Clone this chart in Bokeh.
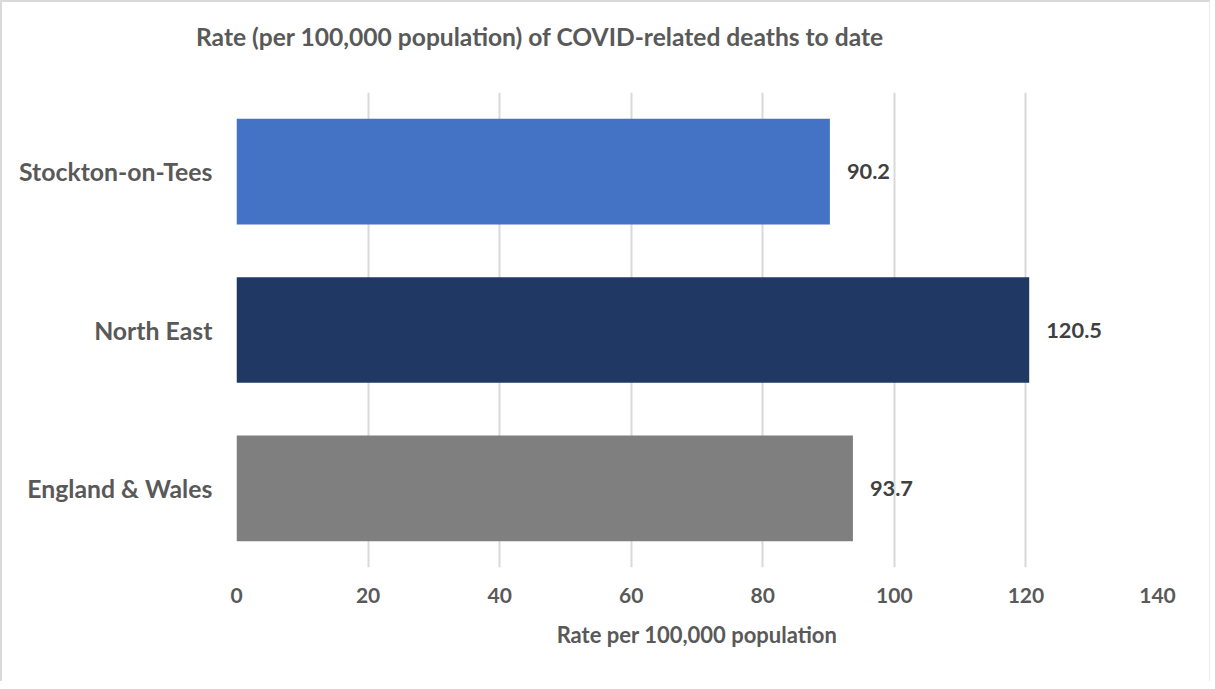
from bokeh.plotting import figure
from bokeh.models import ColumnDataSource, FactorRange, Range1d, FixedTicker, Div
from bokeh.layouts import column
from bokeh.core.properties import value
from bokeh.embed import file_html
from bokeh.resources import INLINE

categories = ["England & Wales", "North East", "Stockton-on-Tees"]
rates = [93.7, 120.5, 90.2]
colors = ["#7F7F7F", "#203864", "#4472C4"]
labels = ["93.7", "120.5", "90.2"]
x_ticks = [0, 20, 40, 60, 80, 100, 120, 140]
title_text = "Rate (per 100,000 population) of COVID-related deaths to date"

FONT = "Lato"

src = ColumnDataSource(dict(cat=categories, rate=rates, color=colors, label=labels))

title = Div(text=title_text, width=1000, height=30, margin=(20, 0, 0, 194),
            styles={"font-family": FONT, "font-weight": "bold", "font-size": "24.6px",
                    "color": "#595959", "white-space": "nowrap", "line-height": "30px"})

p = figure(width=1207, height=629, output_backend="svg", toolbar_location=None,
           y_range=FactorRange(factors=categories, range_padding=0),
           x_range=Range1d(0, 140),
           min_border_left=234, min_border_right=52, min_border_top=40, min_border_bottom=114,
           margin=(0, 0, 0, 0))

p.hbar(y="cat", right="rate", left=0, height=0.667, fill_color="color", line_color=None, source=src)
p.text(x="rate", y="cat", text="label", source=src, x_offset=17, text_align="left",
       text_baseline="middle", text_font=value(FONT), text_font_style="bold",
       text_font_size="21.8px", text_color="#404040")

p.outline_line_color = None
p.ygrid.grid_line_color = None
p.xgrid.grid_line_color = "#D9D9D9"
p.xgrid.grid_line_width = 2
p.xaxis.ticker = FixedTicker(ticks=x_ticks)

for ax in (p.xaxis[0], p.yaxis[0]):
    ax.axis_line_color = None
    ax.major_tick_line_color = None
    ax.minor_tick_line_color = None
    ax.major_label_text_font = FONT
    ax.major_label_text_font_style = "bold"
    ax.major_label_text_color = "#595959"

p.xaxis.major_label_text_font_size = "21px"
p.xaxis.major_label_standoff = 14
p.xaxis.axis_label = "Rate per 100,000 population"
p.xaxis.axis_label_text_font = FONT
p.xaxis.axis_label_text_font_style = "bold"
p.xaxis.axis_label_text_font_size = "22px"
p.xaxis.axis_label_text_color = "#595959"
p.xaxis.axis_label_standoff = 15

p.yaxis.major_label_text_font_size = "24.8px"
p.yaxis.major_label_standoff = 18

layout = column(title, p, spacing=0,
                styles={"border-left": "2px solid #D9D9D9", "border-top": "2px solid #D9D9D9",
                        "border-right": "1px solid #EBEBEB", "box-sizing": "border-box"})

open("out.html", "w").write(file_html(layout, INLINE))
